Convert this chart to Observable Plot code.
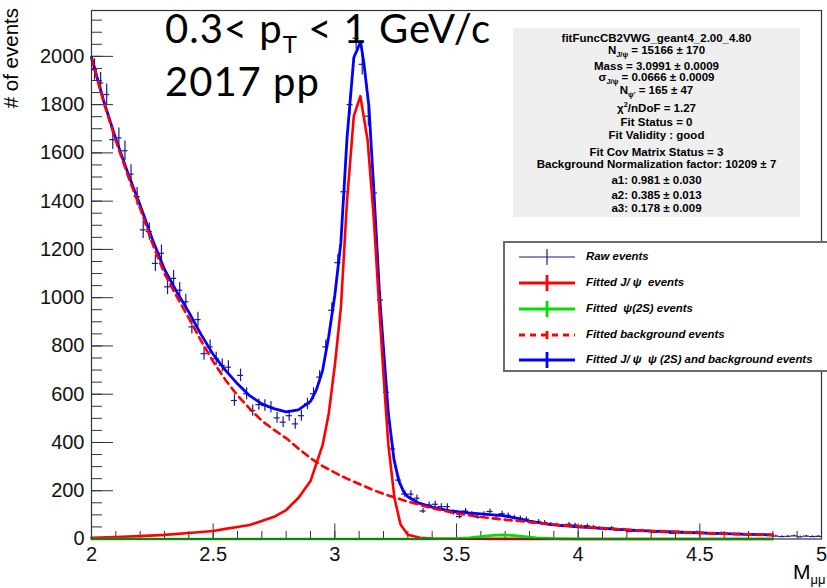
<!DOCTYPE html>
<html><head><meta charset="utf-8">
<script src="https://cdn.jsdelivr.net/npm/d3@7"></script>
<script src="https://cdn.jsdelivr.net/npm/@observablehq/plot@0.6"></script>
<style>
body{margin:0;background:#fff;}
#wrap{position:relative;width:827px;height:588px;overflow:hidden;font-family:"Liberation Sans",Arial,sans-serif;}
#wrap > svg{position:absolute;left:0;top:0;}
.ttl{position:absolute;font-family:Lato,"Open Sans",sans-serif;font-size:40px;letter-spacing:1px;color:#000;white-space:nowrap;line-height:32px;}
.ttl sub{font-size:24px;vertical-align:-10px;letter-spacing:0;line-height:0;}
#stats{position:absolute;left:513px;top:28px;width:287px;height:189px;background:#efefef;}
#stats div{position:absolute;left:0;width:100%;text-align:center;font-weight:bold;font-size:11.5px;line-height:9px;white-space:nowrap;transform:translateY(-50%);}
#stats sub{font-size:7.5px;vertical-align:-3px;line-height:0;}
#stats sup{font-size:7.5px;line-height:0;}
#legend{position:absolute;left:503px;top:241px;width:340px;height:131px;border:2px solid #6b6b6b;background:#fff;box-sizing:border-box;}
#legend .row{position:absolute;left:0;height:20px;}
#legend .row svg{position:absolute;left:12px;top:0;}
#legend .row span{position:absolute;left:81px;top:3px;font-weight:bold;font-style:italic;font-size:11.4px;white-space:nowrap;}
#ylab{position:absolute;left:-45px;top:52px;width:112px;text-align:right;font-size:20.5px;transform:rotate(-90deg);transform-origin:center;white-space:nowrap;}
#xlab{position:absolute;left:793px;top:560px;font-size:21px;white-space:nowrap;}
#xlab sub{font-size:13px;vertical-align:-5px;}
</style></head><body><div id="wrap"></div>
<script>
// ---- data ----
const binStart = 2.0, binWidth = 0.025;
const rawCounts = [
 1945,1890,1842,1655,1662,1609,1512,1419,1281,1274,
 1142,1184,1045,1080,1031,983,879,909,768,796,
 747,719,712,574,678,602,532,557,553,546,
 502,484,511,477,511,560,602,671,796,948,
 1145,1439,1800,2075,1967,1752,1434,990,608,373,
 244,186,186,169,116,141,144,134,134,109,
 93,116,103,91,103,114,86,105,98,89,
 86,82,68,72,68,61,58,54,61,58,
 52,55,50,44,40,45,36,38,31,33,
 35,33,29,32,27,24,27,25,23,28,
 24,22,21,24,20,19,20,18,19,17,
 18,14,12,10,11,13,9,12,10,11];

const bgMass  = [2.0,2.05,2.1,2.15,2.2,2.25,2.3,2.35,2.4,2.45,2.5,2.55,2.6,2.65,2.7,2.75,2.8,2.85,2.9,2.95,3.0,3.05,3.1,3.15,3.2,3.3,3.4,3.5,3.6,3.7,3.8,3.9,4.0,4.1,4.2,4.3,4.4,4.5,4.6,4.7,4.8];
const bgValue = [1992,1810,1650,1505,1370,1225,1100,1005,915,822,735,660,595,540,490,452,418,375,335,302,275,250,228,206,187,155,128,106,91,80,70,60,52,45,38,33,29,25,22,19,17];

const jpsiMass  = [2.0,2.1,2.2,2.3,2.4,2.5,2.55,2.6,2.65,2.7,2.75,2.8,2.85,2.9,2.95,2.975,3.0,3.025,3.05,3.078,3.105,3.135,3.16,3.18,3.2,3.22,3.245,3.27,3.3,3.35,3.4,3.5,3.7,4.0,4.4,4.8];
const jpsiValue = [5,8,12,17,25,33,42,50,58,75,92,120,170,240,390,520,720,960,1400,1752,1835,1650,1330,1000,680,390,170,60,18,5,2,1,0.5,0.2,0.1,0];

const psi2sMass  = [2.0,3.0,3.4,3.5,3.55,3.6,3.65,3.69,3.73,3.78,3.83,3.9,4.0,4.8];
const psi2sValue = [0,0,0.3,2,5,10,15,17,15,10,5,1.5,0.3,0];

const totalMass  = [2.0,2.05,2.1,2.15,2.2,2.25,2.3,2.35,2.4,2.45,2.5,2.55,2.6,2.65,2.7,2.75,2.8,2.85,2.9,2.925,2.95,2.975,3.0,3.025,3.05,3.078,3.106,3.12,3.14,3.16,3.185,3.2,3.22,3.243,3.263,3.284,3.3,3.34,3.4,3.476,3.55,3.612,3.69,3.75,3.8,3.887,4.0,4.1,4.2,4.3,4.4,4.5,4.6,4.7,4.8];
const totalValue = [1997,1815,1658,1515,1383,1242,1117,1025,940,848,765,700,643,594,560,540,527,535,570,620,700,840,1010,1230,1660,1995,2060,1967,1793,1450,990,790,520,330,241,193,175,151,132,116,108,103,97,85,74,60,50,44,38,33,29,25,22,19,17];

const xMajorTicks = [2,2.5,3,3.5,4,4.5,5];
const yMajorTicks = [0,200,400,600,800,1000,1200,1400,1600,1800,2000];

// ---- build tables ----
const raw = rawCounts.map((n,i)=>({m: binStart + binWidth*(i+0.5), n}));
const curve = (ms, vs) => ms.map((m,i)=>({m, v: vs[i]}));
const bg = curve(bgMass, bgValue), jpsi = curve(jpsiMass, jpsiValue),
      psi2s = curve(psi2sMass, psi2sValue), total = curve(totalMass, totalValue);
const xMinorTicks = d3.range(20, 51).map(k => k/10);
const yMinorTicks = d3.range(0, 2200, 50);

const W = 827, H = 588, mL = 91, mR = 6, mT = 10, mB = 49.5;
const fw = W - mL - mR, fh = H - mT - mB;
const rawColor = "#1b1b85";

const chart = Plot.plot({
  width: W, height: H,
  marginLeft: mL, marginRight: mR, marginTop: mT, marginBottom: mB,
  style: {fontFamily: "'Liberation Sans', Arial, sans-serif", fontSize: "20px", background: "transparent", overflow: "visible"},
  x: {domain: [2, 5]},
  y: {domain: [0, 2190]},
  marks: [
    Plot.tickY(yMinorTicks, {y: d=>d, insetRight: fw - 11, stroke: "#333"}),
    Plot.tickY(yMajorTicks, {y: d=>d, insetRight: fw - 22, stroke: "#333"}),
    Plot.tickX(xMinorTicks, {x: d=>d, insetTop: fh - 7.5, stroke: "#333"}),
    Plot.tickX(xMajorTicks, {x: d=>d, insetTop: fh - 15, stroke: "#333"}),
    Plot.axisX({ticks: xMajorTicks, tickSize: 0, tickPadding: 8, tickFormat: d=>String(d), label: null, fill: "#111"}),
    Plot.axisY({ticks: yMajorTicks, tickSize: 0, tickPadding: 7, tickFormat: d=>String(d), label: null, fill: "#111"}),
    Plot.ruleX(raw, {x: "m", y1: d=>d.n - Math.sqrt(d.n), y2: d=>d.n + Math.sqrt(d.n), stroke: rawColor, strokeWidth: 1.2}),
    Plot.ruleY(raw, {y: "n", x1: d=>d.m - binWidth/2, x2: d=>d.m + binWidth/2, stroke: rawColor, strokeWidth: 1.2}),
    Plot.line(total, {x: "m", y: "v", stroke: "#0000ff", strokeWidth: 2.8}),
    Plot.line(jpsi, {x: "m", y: "v", stroke: "#ff0000", strokeWidth: 2.6}),
    Plot.line(psi2s, {x: "m", y: "v", stroke: "#00e000", strokeWidth: 2.6}),
    Plot.line(bg, {x: "m", y: "v", stroke: "#ff0000", strokeWidth: 2.6, strokeDasharray: "7,5"}),
    Plot.frame({stroke: "#333", strokeWidth: 1.2})
  ]
});

const wrap = document.getElementById("wrap");
wrap.appendChild(chart);

wrap.insertAdjacentHTML("beforeend", `
<div class="ttl" style="left:165px;top:12px;">0.3&lt; p<sub>T</sub> &lt; 1 GeV/c</div>
<div class="ttl" style="left:165px;top:65px;">2017 pp</div>
<div id="stats">
  <div style="top:9.7px">fitFuncCB2VWG_geant4_2.00_4.80</div>
  <div style="top:22px">N<sub>J/ψ</sub> = 15166 ± 170</div>
  <div style="top:38.2px">Mass = 3.0991 ± 0.0009</div>
  <div style="top:49.2px">σ<sub>J/ψ</sub> = 0.0666 ± 0.0009</div>
  <div style="top:62px">N<sub>ψ'</sub> = 165 ± 47</div>
  <div style="top:80.3px">χ<sup>2</sup>/nDoF = 1.27</div>
  <div style="top:94.3px">Fit Status = 0</div>
  <div style="top:107px">Fit Validity : good</div>
  <div style="top:123.7px">Fit Cov Matrix Status = 3</div>
  <div style="top:136.3px">Background Normalization factor: 10209 ± 7</div>
  <div style="top:152px">a1: 0.981 ± 0.030</div>
  <div style="top:167px">a2: 0.385 ± 0.013</div>
  <div style="top:180.3px">a3: 0.178 ± 0.009</div>
</div>
<div id="legend">
  <div class="row" style="top:4px"><svg width="60" height="20"><line x1="2" y1="10" x2="58" y2="10" stroke="${rawColor}" stroke-width="1.2"/><line x1="30" y1="2" x2="30" y2="18" stroke="${rawColor}" stroke-width="1.2"/></svg><span>Raw events</span></div>
  <div class="row" style="top:29.7px"><svg width="60" height="20"><line x1="2" y1="10" x2="58" y2="10" stroke="#ff0000" stroke-width="2.8"/><line x1="30" y1="2" x2="30" y2="18" stroke="#ff0000" stroke-width="2.8"/></svg><span>Fitted J/ ψ&nbsp; events</span></div>
  <div class="row" style="top:55.7px"><svg width="60" height="20"><line x1="2" y1="10" x2="58" y2="10" stroke="#00e000" stroke-width="2.8"/><line x1="30" y1="2" x2="30" y2="18" stroke="#00e000" stroke-width="2.8"/></svg><span>Fitted &nbsp;ψ(2S) events</span></div>
  <div class="row" style="top:82.3px"><svg width="60" height="20"><line x1="2" y1="10" x2="58" y2="10" stroke="#ff0000" stroke-width="2.8" stroke-dasharray="6,5"/><line x1="30" y1="6" x2="30" y2="14" stroke="#ff0000" stroke-width="2.8"/></svg><span>Fitted background events</span></div>
  <div class="row" style="top:107.3px"><svg width="60" height="20"><line x1="2" y1="10" x2="58" y2="10" stroke="#0000ff" stroke-width="2.8"/><line x1="30" y1="2" x2="30" y2="18" stroke="#0000ff" stroke-width="2.8"/></svg><span>Fitted J/ ψ&nbsp; ψ (2S) and background events</span></div>
</div>
<div id="ylab"># of events</div>
<div id="xlab">M<sub>μμ</sub></div>
`);
</script>
</body></html>
